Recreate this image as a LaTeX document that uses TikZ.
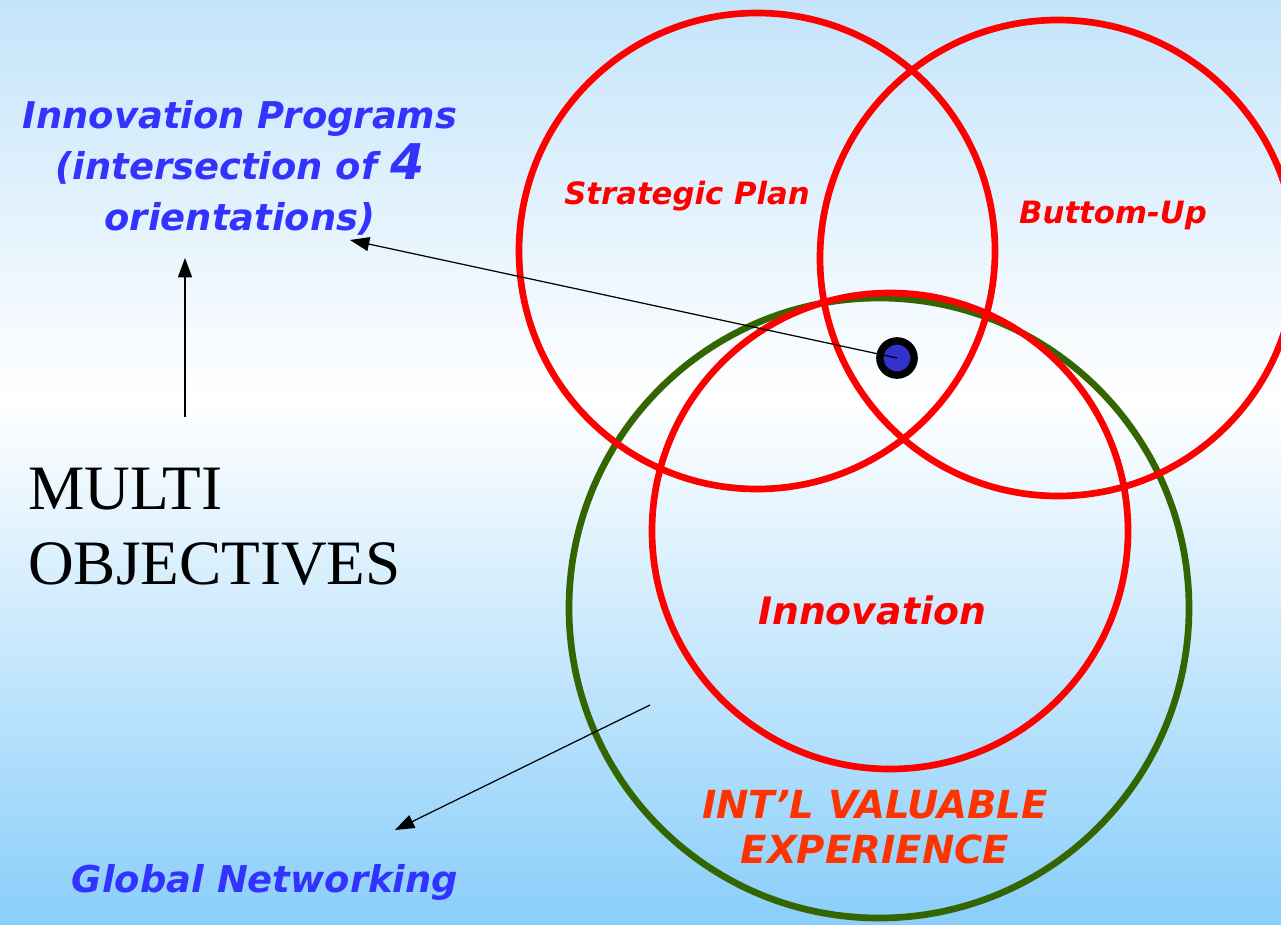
\documentclass[tikz,border=0pt]{standalone}
\usepackage{fontspec}
\setmainfont{Liberation Serif}
\newfontfamily\verd{DejaVu Sans}
\usetikzlibrary{arrows.meta}
\definecolor{skytop}{RGB}{196,228,250}
\definecolor{skybot}{RGB}{138,206,250}
\definecolor{progblue}{RGB}{51,51,255}
\definecolor{ringred}{RGB}{255,0,0}
\definecolor{intlred}{RGB}{255,51,0}
\definecolor{ringgreen}{RGB}{51,102,0}
\definecolor{dotblue}{RGB}{51,51,204}
\begin{document}
\begin{tikzpicture}[x=0.02cm,y=-0.02cm,
  ring/.style={draw=ringred,line width=3.8pt},
  bluetxt/.style={text=progblue,font=\verd\bfseries\itshape\fontsize{21}{29}\selectfont,align=center},
  redtxt/.style={text=ringred,font=\verd\bfseries\itshape\fontsize{21.5}{24}\selectfont},
  pointer/.style={-{Triangle[length=11pt,width=8pt]},line width=0.7pt}]
\useasboundingbox (0,0) rectangle (1281,924);
\clip (0,0) rectangle (1281,924);
% background
\shade[top color=skytop,bottom color=white] (0,0) rectangle (1281,400);
\shade[top color=white,bottom color=skybot] (0,400) rectangle (1281,924);

% the four orientations
\draw[draw=ringgreen,line width=3.8pt] (879,608) circle (310);
\draw[ring] (757,251) circle (238);
\draw[ring] (1058,258) circle (238);
\draw[ring] (890,531) circle (238);

\node[redtxt,font=\verd\bfseries\itshape\fontsize{17.5}{20}\selectfont] (strat) at (687,196) {Strategic Plan};
\node[redtxt,font=\verd\bfseries\itshape\fontsize{17.5}{20}\selectfont] (bottom) at (1113,215) {Buttom-Up};
\node[redtxt] (innov) at (872,610) {Innovation};
\node[redtxt,text=intlred,align=center,font=\verd\bfseries\itshape\fontsize{22}{25.5}\selectfont] (intl) at (875,827) {INT’L VALUABLE\\EXPERIENCE};

\node[draw=black,fill=dotblue,circle,line width=4.2pt,minimum size=19.5pt,inner sep=0pt] (dot) at (897,358) {};

\node[bluetxt] (prog) at (240,168) {Innovation Programs\\(intersection of {\fontsize{28}{29}\selectfont 4}\\orientations)};
\node[bluetxt] (global) at (265,882) {Global Networking};
\node[anchor=west,align=left,font=\fontsize{36}{42.5}\selectfont] (multi) at (22,527) {MULTI\\OBJECTIVES};

\coordinate (progtip) at (350,240);
\coordinate (multitop) at (185,258);
\coordinate (multibot) at (185,417);
\coordinate (netstart) at (650,705);
\coordinate (nettip) at (395,830);

\draw[pointer] (dot.center) -- (progtip);
\draw[pointer] (multibot) -- (multitop);
\draw[pointer] (netstart) -- (nettip);
\end{tikzpicture}
\end{document}
